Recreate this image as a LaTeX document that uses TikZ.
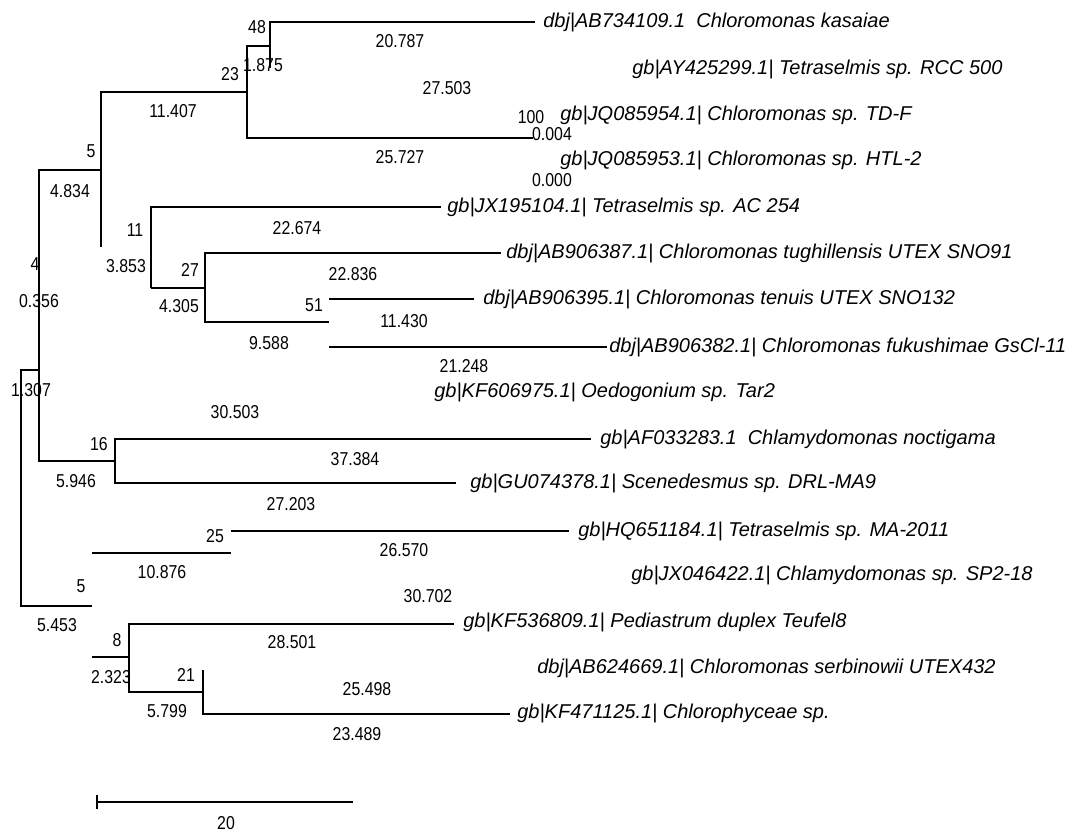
\documentclass[tikz,border=0pt]{standalone}
\usepackage{fontspec}
\setmainfont{Liberation Sans}
\newfontfamily\numfont[FakeStretch=0.85]{Liberation Sans}
\usetikzlibrary{positioning}

\begin{document}
\begin{tikzpicture}[x=0.75pt, y=-0.75pt,
  br/.style={line width=1pt},
  taxon/.style={anchor=west, inner sep=0pt, font=\fontsize{15}{18}\selectfont\itshape},
  val/.style={inner sep=0pt, font=\fontsize{14}{16}\selectfont\numfont}]
\useasboundingbox (0,0) rectangle (1084,834);
% inner nodes
\coordinate (R) at (21,488);
\coordinate (A) at (39,370);
\coordinate (C) at (101,170);
\coordinate (D) at (247,92);
\coordinate (E) at (270,46);
\coordinate (J) at (533,138);
\coordinate (F) at (151,247);
\coordinate (G) at (205,288);
\coordinate (H) at (329,322);
\coordinate (N) at (115,461);
\coordinate (B) at (92,606);
\coordinate (M) at (231,553);
\coordinate (K) at (129,657);
\coordinate (L) at (203,692);
% tips
\coordinate (t1) at (535,22);
\coordinate (t2) at (535,68);
\coordinate (t5) at (441,207);
\coordinate (t6) at (501,253);
\coordinate (t7) at (474,299);
\coordinate (t8) at (607,347);
\coordinate (t10) at (591,439);
\coordinate (t11) at (456,483);
\coordinate (t12) at (569,531);
\coordinate (t14) at (454,624);
\coordinate (t15) at (454,670);
\coordinate (t16) at (510,714);

% branches
\foreach \p/\c in {R/A,R/B,A/C,A/N,C/D,D/E,D/J,E/t1,F/t5,G/t6,G/H,N/t10,N/t11,K/t14,K/L,L/t16}
  \draw[br] (\p) |- (\c);
\foreach \p/\c in {C/F,E/t2,L/t15}
  \draw[br] (\p) -- (\p |- \c);
\foreach \p/\c in {H/t7,H/t8,M/t12,B/M,B/K}
  \draw[br] (\p |- \c) -- (\c);
\draw[br] (F) -- (F |- G);
\draw[line width=2pt] (F |- G) -- (G);

% taxa
\node[taxon] (l1) at (543,22) {dbj|AB734109.1\ \ Chloromonas kasaiae};
\node[taxon] (l2) at (632,69) {gb|AY425299.1| Tetraselmis sp. RCC 500};
\node[taxon] (l3) at (560,115) {gb|JQ085954.1| Chloromonas sp. TD-F};
\node[taxon] (l4) at (560,160) {gb|JQ085953.1| Chloromonas sp. HTL-2};
\node[taxon] (l5) at (447,207) {gb|JX195104.1| Tetraselmis sp. AC 254};
\node[taxon] (l6) at (506,253) {dbj|AB906387.1| Chloromonas tughillensis UTEX SNO91};
\node[taxon] (l7) at (483,299) {dbj|AB906395.1| Chloromonas tenuis UTEX SNO132};
\node[taxon] (l8) at (609,347) {dbj|AB906382.1| Chloromonas fukushimae GsCl-11};
\node[taxon] (l9) at (434,392) {gb|KF606975.1| Oedogonium sp. Tar2};
\node[taxon] (l10) at (600,439) {gb|AF033283.1\ \ Chlamydomonas noctigama};
\node[taxon] (l11) at (470,483) {gb|GU074378.1| Scenedesmus sp. DRL-MA9};
\node[taxon] (l12) at (578,531) {gb|HQ651184.1| Tetraselmis sp. MA-2011};
\node[taxon] (l13) at (631,575) {gb|JX046422.1| Chlamydomonas sp. SP2-18};
\node[taxon] (l14) at (463,622) {gb|KF536809.1| Pediastrum duplex Teufel8};
\node[taxon] (l15) at (537,668) {dbj|AB624669.1| Chloromonas serbinowii UTEX432};
\node[taxon] (l16) at (517,713) {gb|KF471125.1| Chlorophyceae sp.};

% support values and branch lengths
\foreach \x/\y/\t [count=\i] in {257/27/48, 263/65/1.875, 230/74/23, 173/111/11.407,
    400/41/20.787, 447/88/27.503, 531/117/100, 552/134/0.004, 400/157/25.727,
    552/180/0.000, 91/151/5, 70/191/4.834, 135/230/11, 297/228/22.674,
    126/266/3.853, 190/270/27, 353/274/22.836, 35/264/4, 39/301/0.356,
    179/306/4.305, 314/305/51, 404/321/11.430, 269/343/9.588, 464/366/21.248,
    31/390/1.307, 235/412/30.503, 99/444/16, 76/481/5.946, 355/459/37.384,
    291/504/27.203, 215/536/25, 404/550/26.570, 162/572/10.876, 81/586/5,
    428/596/30.702, 57/625/5.453, 117/640/8, 111/677/2.323, 186/675/21,
    292/642/28.501, 367/689/25.498, 167/711/5.799, 357/734/23.489}
  \node[val] (v\i) at (\x,\y) {\t};

% scale bar
\coordinate (s0) at (97,802);
\coordinate (s1) at (353,802);
\draw[br] (s0) -- (s1);
\draw[br] ([yshift=5pt]s0) -- ([yshift=-5pt]s0);
\node[val] (sc) at (226,823) {20};
\end{tikzpicture}
\end{document}
